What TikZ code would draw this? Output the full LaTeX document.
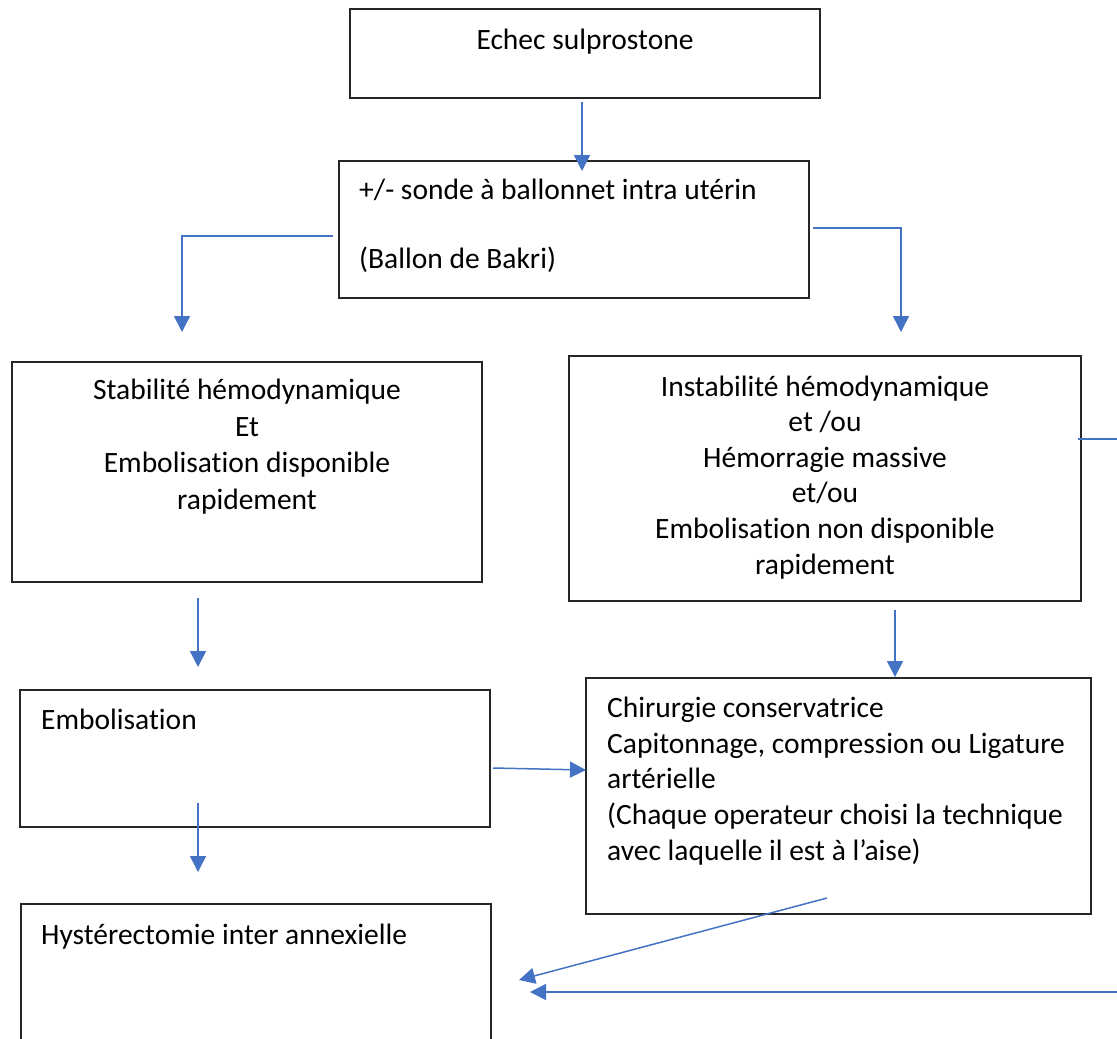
\documentclass[tikz,border=0pt]{standalone}
\usepackage{fontspec}
\setmainfont[Ligatures={NoCommon}]{Carlito}
\usetikzlibrary{arrows.meta}

\definecolor{flowblue}{HTML}{4472C4}

\tikzset{
	box/.style={draw=black!85, line width=1.4pt, inner sep=0pt},
	flow/.style={draw=flowblue, line width=1.5pt, -{Triangle[length=16pt,width=16pt]}},
	stub/.style={draw=flowblue, line width=1.5pt},
	txt/.style={inner sep=0pt, anchor=base}
}

\begin{document}
\begin{tikzpicture}[x=1pt,y=-1pt,font=\fontsize{29.5}{35.6}\selectfont]
		\useasboundingbox (0,0) rectangle (1117,1039);
		\clip (0,0) rectangle (1117,1039);
		% boxes
		\node[box, minimum width=470pt, minimum height=89pt] (echec) at (585,53.5) {};
		\node[box, minimum width=470pt, minimum height=137pt] (bakri) at (574,229.5) {};
		\node[box, minimum width=470pt, minimum height=220pt] (stable) at (247,472) {};
		\node[box, minimum width=512pt, minimum height=245pt] (instable) at (825,478.5) {};
		\node[box, minimum width=470pt, minimum height=137pt] (embol) at (255,758.5) {};
		\node[box, minimum width=505pt, minimum height=236pt] (chir) at (838.5,796) {};
		\node[box, minimum width=470pt, minimum height=180pt] (hyst) at (256,994) {};
		% texts (base = last line)
		\node[txt] (echec-t) at (585,49) {Echec sulprostone};
		\node[txt, anchor=base west, align=left] (bakri-t) at (359,268) {+/- sonde à ballonnet intra utérin\\[33.4pt](Ballon de Bakri)};
		\node[txt, align=center, font=\fontsize{29.5}{36.5}\selectfont] (stable-t) at (247,509) {Stabilité hémodynamique\\Et\\Embolisation disponible\\rapidement};
		\node[txt, align=center] (instable-t) at (825,574) {Instabilité hémodynamique\\et /ou\\Hémorragie massive\\et/ou\\Embolisation non disponible\\rapidement};
		\node[txt, anchor=base west] (embol-t) at (41,729) {Embolisation};
		\node[txt, anchor=base west, align=left] (chir-t) at (607,860) {Chirurgie conservatrice\\Capitonnage, compression ou Ligature\\artérielle\\(Chaque operateur choisi la technique\\avec laquelle il est à l’aise)};
		\node[txt, anchor=base west] (hyst-t) at (41,944) {Hystérectomie inter annexielle};
		% connector ends
		\coordinate (e1) at (582,102);
		\coordinate (b1) at (582,171);
		\coordinate (bl) at (333,236);
		\coordinate (sl) at (182,332);
		\coordinate (br) at (813,228);
		\coordinate (ir) at (901,332);
		\coordinate (s1) at (198,598);
		\coordinate (m1) at (198,667);
		\coordinate (i1) at (895,610);
		\coordinate (c1) at (895,677);
		\coordinate (m2) at (493,768);
		\coordinate (c2) at (586,770);
		\coordinate (m3) at (198,803);
		\coordinate (h1) at (198,872);
		\coordinate (c3) at (827,898);
		\coordinate (h2) at (519,980);
		\coordinate (i2) at (1078,439);
		\coordinate (x1) at (1117,439);
		\coordinate (x2) at (1117,992);
		\coordinate (h3) at (530,992);
		% connectors
		\draw[flow] (e1) -- (b1);
		\draw[flow] (bl) -| (sl);
		\draw[flow] (br) -| (ir);
		\draw[flow] (s1) -- (m1);
		\draw[flow] (i1) -- (c1);
		\draw[flow] (m2) -- (c2);
		\draw[flow] (m3) -- (h1);
		\draw[flow] (c3) -- (h2);
		\draw[stub] (i2) -- (x1);
		\draw[flow] (x2) -- (h3);
	\end{tikzpicture}
\end{document}
